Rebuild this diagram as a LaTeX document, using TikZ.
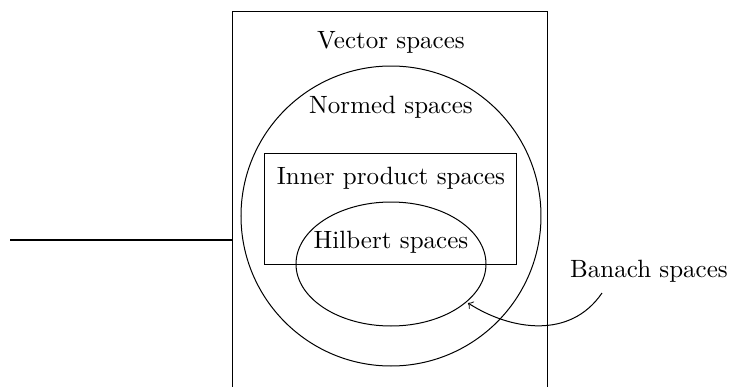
\documentclass[tikz,border=0pt]{standalone}
\usetikzlibrary{arrows}
\begin{document}
\begin{tikzpicture}[x=0.4pt,y=-0.4pt,
  thinline/.style={line width=0.4pt},
  lbl/.style={inner sep=2pt, font=\normalsize}]
\useasboundingbox (0,0) rectangle (729,387);
\clip (0,0) rectangle (729,387);
% outer rectangle (vector spaces)
\draw[thinline] (233,11) rectangle (548,400);
% normed spaces circle
\draw[thinline] (391,216) circle [radius=150];
% inner product rectangle
\draw[thinline] (265,153) rectangle (517,264);
% Hilbert ellipse
\draw[thinline] (391,264) ellipse [x radius=95, y radius=62];
% labels
\node[lbl] (vec) at (391,42) {Vector spaces};
\node[lbl] (norm) at (391,107) {Normed spaces};
\node[lbl] (inner) at (391,178) {Inner product spaces};
\node[lbl] (hilb) at (391,242) {Hilbert spaces};
\node[lbl] (banach) at (649,271) {Banach spaces};
\coordinate (vleft) at (233,240);
\coordinate (lstart) at (10,240);
\coordinate (bstart) at (602,293);
\coordinate (bend) at (468,303);
\draw[line width=0.8pt] (lstart) -- (vleft);
\draw[thinline,-to] (bstart) .. controls (570,340) and (510,330) .. (bend);
\end{tikzpicture}
\end{document}
